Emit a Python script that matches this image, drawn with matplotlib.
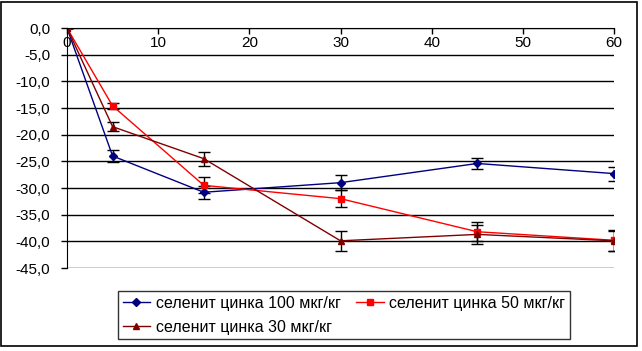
import numpy as np
import matplotlib.pyplot as plt
from matplotlib.ticker import FuncFormatter
from matplotlib.patches import Rectangle

plt.rcParams['font.family'] = ['Liberation Sans', 'DejaVu Sans']

days = [0, 5, 15, 30, 45, 60]

zn100 = [0.0, -24.0, -30.8, -29.0, -25.4, -27.3]
zn100_err = [0.0, 1.2, 1.2, 1.4, 1.1, 1.3]

zn50 = [0.0, -14.6, -29.5, -32.0, -38.2, -39.8]
zn50_err = [0.0, 0.6, 1.5, 1.6, 1.8, 2.0]

zn30 = [0.0, -18.5, -24.5, -39.9, -38.7, -39.9]
zn30_err = [0.0, 0.8, 1.3, 1.9, 1.8, 1.9]

labels = ['селенит цинка 100 мкг/кг', 'селенит цинка 50 мкг/кг', 'селенит цинка 30 мкг/кг']


def comma_fmt(v, pos):
    return ('%.1f' % v).replace('.', ',')


fig = plt.figure(figsize=(6.42, 3.51), dpi=100)
ax = fig.add_axes([67/642, 1 - 268/351, (614 - 67)/642, (268 - 28)/351])

# outer frame of the whole chart
fig.patches.append(Rectangle((1/642, 5/351), 636/642, 344/351, transform=fig.transFigure,
                             fill=False, edgecolor='black', linewidth=1.2))

err_style = dict(ecolor='black', elinewidth=1, capsize=4, capthick=1)
l100 = ax.errorbar(days, zn100, yerr=zn100_err, color='#000080', marker='D', markersize=4,
                   linewidth=1, **err_style)
l50 = ax.errorbar(days, zn50, yerr=zn50_err, color='#FF0000', marker='s', markersize=5,
                  linewidth=1, **err_style)
l30 = ax.errorbar(days, zn30, yerr=zn30_err, color='#800000', marker='^', markersize=5,
                  linewidth=1, **err_style)

ax.set_xlim(0, 60)
ax.set_ylim(-45, 0)
ax.set_xticks(range(0, 61, 10))
ax.set_yticks(np.arange(-45, 1, 5))
ax.yaxis.set_major_formatter(FuncFormatter(comma_fmt))
ax.yaxis.grid(True, color='black', linewidth=1)
ax.set_axisbelow(True)

ax.spines['bottom'].set_position(('data', 0))
ax.spines['top'].set_visible(False)
ax.spines['right'].set_visible(False)
ax.tick_params(axis='both', labelsize=11, length=4, width=1, direction='out')
ax.tick_params(axis='x', pad=2)
ax.tick_params(axis='y', pad=8)

# legend fills column-wise, so order gives rows: 100, 50 / 30
leg = fig.legend([l100[0], l30[0], l50[0]], [labels[0], labels[2], labels[1]],
                 ncol=2, loc='upper left',
                 bbox_to_anchor=(118/642, 1 - 291/351), fontsize=11.5,
                 frameon=True, fancybox=False, edgecolor='black',
                 handlelength=1.7, columnspacing=1.0, borderpad=0.3,
                 labelspacing=0.55, handletextpad=0.35, borderaxespad=0)
leg.get_frame().set_linewidth(1)

fig.savefig('out.png', dpi=100)
